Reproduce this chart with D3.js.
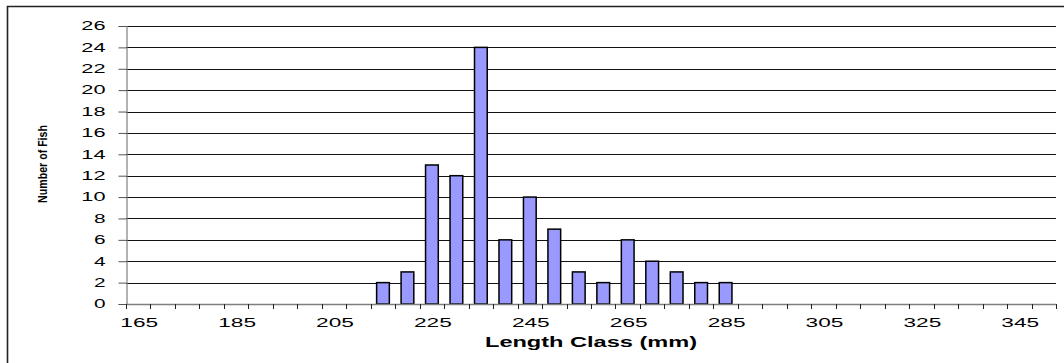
<!DOCTYPE html>
<html>
<head>
<meta charset="utf-8">
<script src="https://cdn.jsdelivr.net/npm/d3@7"></script>
<style>
  html, body { margin: 0; padding: 0; background: #fff; }
  svg { display: block; }
</style>
</head>
<body>
<script>
// ---- data ----
const lengthClasses = [165,170,175,180,185,190,195,200,205,210,215,220,225,230,235,240,245,250,255,260,265,270,275,280,285,290,295,300,305,310,315,320,325,330,335,340,345,350];
const fishCounts    = [0,0,0,0,0,0,0,0,0,0,2,3,13,12,24,6,10,7,3,2,6,4,3,2,2,0,0,0,0,0,0,0,0,0,0,0,0,0];
const xTickLabels   = [165,185,205,225,245,265,285,305,325,345];
const yTickValues   = [0,2,4,6,8,10,12,14,16,18,20,22,24,26];
const xTitle = "Length Class (mm)";
const yTitle = "Number of Fish";

// ---- layout ----
const W = 1064, H = 363;
const plotL = 126, plotR = 1056, plotT = 26, plotB = 304;
const font = "'Liberation Sans', Arial, sans-serif";

const svg = d3.select("body").append("svg").attr("width", W).attr("height", H);
svg.append("rect").attr("width", W).attr("height", H).attr("fill", "#fff");

// chart frame (left + top visible)
svg.append("path").attr("d", `M7.5,${H} L7.5,6.5 L${W},6.5`)
  .attr("fill", "none").attr("stroke", "#222").attr("stroke-width", 1.6);

const x = d3.scaleBand().domain(lengthClasses).range([plotL, plotR]).padding(0);
const y = d3.scaleLinear().domain([0, 26]).range([plotB, plotT]);

// gridlines
svg.append("g").selectAll("line").data(yTickValues.filter(v => v > 0)).join("line")
  .attr("x1", plotL).attr("x2", plotR)
  .attr("y1", d => Math.round(y(d)) + 0.5).attr("y2", d => Math.round(y(d)) + 0.5)
  .attr("stroke", "#111").attr("stroke-width", 1).attr("shape-rendering", "crispEdges");

// bars
const bw = x.bandwidth() * 0.52;
svg.append("g").selectAll("rect").data(lengthClasses.map((c, i) => ({c, v: fishCounts[i]})).filter(d => d.v > 0)).join("rect")
  .attr("x", d => x(d.c) + (x.bandwidth() - bw) / 2)
  .attr("y", d => y(d.v))
  .attr("width", bw)
  .attr("height", d => y(0) - y(d.v))
  .attr("fill", "#9999FF").attr("stroke", "#000").attr("stroke-width", 1.5);

// y axis
const yAxis = d3.axisLeft(y).tickValues(yTickValues).tickSize(8).tickPadding(13);
const gy = svg.append("g").attr("transform", `translate(${plotL + 0.5},0)`).call(yAxis);
gy.select(".domain").attr("stroke", "#808080").attr("stroke-width", 1.2);
gy.selectAll(".tick line").attr("stroke", "#555");
gy.selectAll("text").attr("font-family", font).attr("font-size", 12).attr("fill", "#000")
  .attr("textLength", d => String(d).length * 12.6 - 1).attr("lengthAdjust", "spacingAndGlyphs");

// x axis: tick marks at category boundaries
const boundaries = d3.range(lengthClasses.length + 1).map(i => plotL + i * x.step());
svg.append("line").attr("x1", plotL).attr("x2", plotR).attr("y1", plotB + 0.5).attr("y2", plotB + 0.5)
  .attr("stroke", "#808080").attr("stroke-width", 1.5);
svg.append("g").selectAll("line").data(boundaries).join("line")
  .attr("x1", d => Math.round(d) + 0.5).attr("x2", d => Math.round(d) + 0.5)
  .attr("y1", plotB).attr("y2", plotB + 5)
  .attr("stroke", "#222").attr("stroke-width", 1).attr("shape-rendering", "crispEdges");

// x tick labels
svg.append("g").selectAll("text").data(xTickLabels).join("text")
  .attr("x", d => x(d) + x.bandwidth() / 2 + 1)
  .attr("y", 327)
  .attr("text-anchor", "middle")
  .attr("font-family", font).attr("font-size", 12).attr("fill", "#000")
  .attr("textLength", d => String(d).length * 12.6).attr("lengthAdjust", "spacingAndGlyphs")
  .text(d => d);

// axis titles
svg.append("text").attr("x", 591).attr("y", 347).attr("text-anchor", "middle")
  .attr("font-family", font).attr("font-size", 14).attr("font-weight", "bold")
  .attr("textLength", 212).attr("lengthAdjust", "spacingAndGlyphs")
  .text(xTitle);

svg.append("text").attr("transform", "translate(47,164) rotate(-90)").attr("text-anchor", "middle")
  .attr("font-family", font).attr("font-size", 13.5).attr("font-weight", "bold")
  .attr("textLength", 78).attr("lengthAdjust", "spacingAndGlyphs")
  .text(yTitle);
</script>
</body>
</html>
